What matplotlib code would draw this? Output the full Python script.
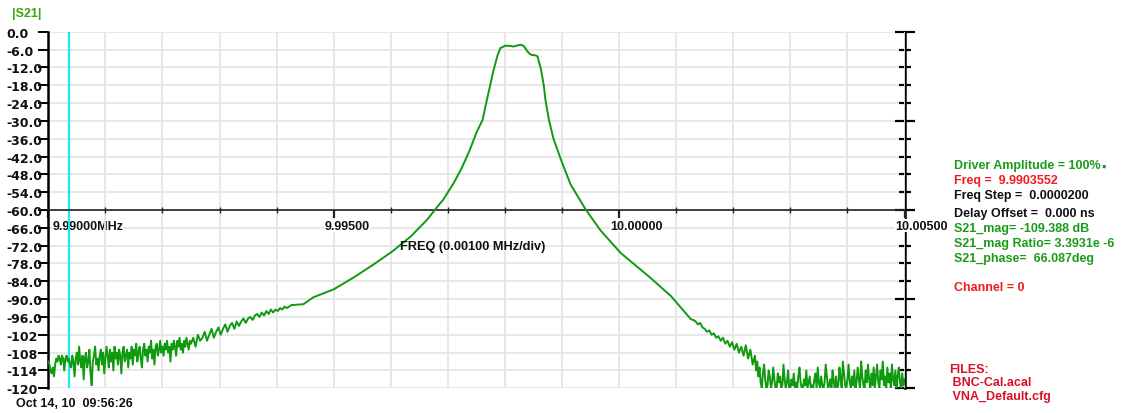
import numpy as np
import matplotlib
matplotlib.use("Agg")
import matplotlib.pyplot as plt
import matplotlib.transforms as mtransforms
from matplotlib.ticker import MultipleLocator

# ---------------- data ----------------
x_min, x_max = 9.990, 10.005          # MHz
y_min, y_max = -120.0, 0.0            # dB
marker_freq = 9.9903552               # MHz (cursor)

# low-frequency noise floor, dense part (sweep step 0.00002 MHz)
left1_start, left1_step = 9.99000, 0.00002
left1_db = [-111, -112, -114, -115, -113, -116, -112, -110, -111, -109,
            -110, -112, -109, -110, -114, -110, -109, -111, -110, -112,
            -113, -109, -111, -116, -110, -108, -112, -106, -111, -113,
            -109, -117, -110, -108, -113, -111, -107, -115, -119, -111,
            -109, -106, -112, -110, -114, -109, -107, -112, -108, -115,
            -110, -106, -109, -113, -107, -111, -108, -114, -106, -110,
            -108, -112, -107, -109, -115, -108, -106, -111, -109, -107,
            -113, -108, -110, -106, -112, -107, -109, -105, -111, -108,
            -106, -110, -113, -107, -105, -109, -107, -111, -106, -108,
            -104, -110, -107, -112, -106, -105, -109, -107, -104, -108,
            -106, -109, -105, -107, -104, -108, -106, -111, -105, -107,
            -104, -106, -109, -104, -106, -103, -107, -105, -108, -104,
            -106, -103, -105, -107, -104]

# low-frequency slope (every second sample)
left2_start, left2_step = 9.99250, 0.00004
left2_db = [-105, -103, -106, -102, -104, -103, -101, -104, -102, -100,
            -103, -101, -99.5, -102, -100, -98.5, -101, -99, -98, -100,
            -97.5, -99, -97.5, -96.5, -98, -96.5, -96, -97, -95.5, -95,
            -96, -94.5, -95.5, -94, -95, -93.5, -94.5, -93.5, -94, -93,
            -93.5, -92.5, -93, -92.5, -92]

# resonance region
peak_freq = [9.99447, 9.99464, 9.99500, 9.99535, 9.99570, 9.99603, 9.99635,
             9.99664, 9.99682, 9.99692, 9.99710, 9.99724, 9.99738, 9.99750,
             9.99761, 9.99766, 9.99773, 9.99780, 9.99787, 9.99792, 9.99801,
             9.99810, 9.99815, 9.99822, 9.99828, 9.99833, 9.99840, 9.99845,
             9.99854, 9.99857, 9.99863, 9.99868, 9.99871, 9.99877, 9.99885,
             9.99898, 9.99915, 9.99942, 9.99968, 10.00003, 10.00056,
             10.00091, 10.00126]
peak_db = [-91.7, -89.4, -86.7, -82.7, -78.3, -73.9, -68.9,
           -63.2, -58.8, -56.5, -51.0, -46.0, -40.0, -34.0,
           -29.6, -25.0, -19.0, -13.0, -8.0, -5.5, -4.7,
           -4.8, -5.0, -4.6, -4.4, -4.8, -6.8, -7.7,
           -8.0, -8.3, -12.5, -18.0, -23.0, -29.6, -36.0,
           -43.0, -51.4, -60.0, -67.0, -74.5, -83.0, -89.0, -96.8]

# high-frequency slope (every second sample)
right1_start, right1_step = 10.00130, 0.00004
right1_db = [-97, -97.5, -98.5, -98, -99.5, -100, -101, -100.5, -102, -101.5,
             -103, -102.5, -104, -103, -105, -104, -106, -104.5, -107, -105,
             -108, -106, -109, -105.5, -110, -107, -112, -109]

# high-frequency noise floor, dense part (sweep step 0.00002 MHz)
right2_start, right2_step = 10.00240, 0.00002
right2_db = [-114, -111, -116, -113, -118, -120, -115, -112, -117, -120,
             -119, -114, -116, -120, -118, -113, -117, -120, -120, -115,
             -118, -116, -120, -119, -112, -117, -120, -118, -114, -120,
             -120, -117, -119, -115, -120, -118, -120, -116, -113, -118,
             -120, -120, -117, -119, -114, -120, -118, -116, -120, -119,
             -120, -117, -115, -120, -113, -118, -120, -116, -119, -120,
             -118, -112, -116, -120, -119, -117, -120, -114, -118, -120,
             -116, -120, -119, -113, -117, -120, -111, -115, -119, -120,
             -117, -112, -118, -120, -116, -119, -114, -120, -118, -113,
             -117, -120, -111, -116, -119, -120, -114, -118, -112, -117,
             -120, -115, -119, -113, -120, -116, -112, -118, -120, -114,
             -117, -111, -119, -116, -120, -113, -118, -115, -120, -112,
             -117, -119, -114, -120, -116, -113, -118, -120, -115, -119,
             -117]

y_ticks = list(range(0, -121, -6))
y_tick_labels = ["%.1f" % v if abs(v) < 100 else "%d" % v for v in y_ticks]
x_major = [9.990, 9.995, 10.000, 10.005]
x_major_labels = ["9.99000MHz", "9.99500", "10.00000", "10.00500"]

info_lines = [
    ("Driver Amplitude = 100%", "green"),
    ("Freq =  9.9903552", "red"),
    ("Freq Step =  0.0000200", "black"),
    ("Delay Offset =  0.000 ns", "black"),
    ("S21_mag= -109.388 dB", "green"),
    ("S21_mag Ratio= 3.3931e -6", "green"),
    ("S21_phase=  66.087deg", "green"),
    ("Channel = 0", "red"),
]
files_lines = ["FILES:", " BNC-Cal.acal", " VNA_Default.cfg"]

# ---------------- assemble trace ----------------
def seg(start, step, vals):
    return start + step * np.arange(len(vals))

freq = np.concatenate([seg(left1_start, left1_step, left1_db),
                       seg(left2_start, left2_step, left2_db),
                       peak_freq,
                       seg(right1_start, right1_step, right1_db),
                       seg(right2_start, right2_step, right2_db)])
db = np.concatenate([left1_db, left2_db, peak_db, right1_db, right2_db])

# ---------------- figure ----------------
W, H = 1123, 414
fig = plt.figure(figsize=(W / 100, H / 100), dpi=100)
fig.patch.set_facecolor("white")
x0, x1, ytop, ybot = 48.3, 904.5, 32.7, 389.3
ax = fig.add_axes([x0 / W, 1 - ybot / H, (x1 - x0) / W, (ybot - ytop) / H])

GREEN_TXT = "#1c9a1c"
RED_TXT = "#ee1b22"
col = {"green": GREEN_TXT, "red": RED_TXT, "black": "#111111"}
FONT = ["Liberation Sans", "DejaVu Sans"]
GRID = "#e6e6e6"

ax.set_xlim(x_min, x_max)
ax.set_ylim(y_min, y_max)

# ticks
ax.xaxis.set_minor_locator(MultipleLocator(0.001))
ax.set_xticks(x_major)
ax.set_xticklabels(x_major_labels)
ax.set_yticks(y_ticks)
ax.set_yticklabels(y_tick_labels)
ax.grid(axis="x", which="both", color=GRID, lw=1.3)

for s in ("top", "right"):
    ax.spines[s].set_visible(False)
ax.spines["left"].set_linewidth(1.8)
ax.spines["left"].set_color("black")
ax.spines["bottom"].set_position(("data", -60))
ax.spines["bottom"].set_linewidth(1.2)
ax.spines["bottom"].set_color("#222222")

ax.tick_params(axis="y", which="major", direction="out", length=7, width=1.4,
               pad=23.5, colors="black")
ax.tick_params(axis="x", which="major", direction="out", length=6, width=1.6,
               pad=1, colors="#222222")
ax.tick_params(axis="x", which="minor", direction="inout", length=4, width=1.0,
               colors="#222222")

x_label_shift_px = [4, -9, -9, -9]
for lab, dx in zip(ax.get_xticklabels(), x_label_shift_px):
    lab.set_fontfamily(FONT)
    lab.set_fontweight("bold")
    lab.set_fontsize(9)
    lab.set_color("#111111")
    lab.set_horizontalalignment("left")
    lab.set_bbox(dict(facecolor="white", edgecolor="none", pad=0.3))
    lab.set_transform(lab.get_transform() +
                      mtransforms.ScaledTranslation(dx / 100, 0,
                                                    fig.dpi_scale_trans))
for lab in ax.get_yticklabels():
    lab.set_fontfamily("DejaVu Sans")
    lab.set_fontweight("bold")
    lab.set_fontsize(9)
    lab.set_color("#111111")
    lab.set_horizontalalignment("left")

# right axis with crossing ticks; it also carries the horizontal grid
ax2 = ax.twinx()
ax2.set_ylim(y_min, y_max)
for s in ("top", "left", "bottom"):
    ax2.spines[s].set_visible(False)
ax2.spines["right"].set_linewidth(1.8)
ax2.set_yticks(range(-120, 1, 30))
ax2.yaxis.set_minor_locator(MultipleLocator(6))
ax2.tick_params(axis="y", which="major", direction="inout", length=14.5,
                width=1.6, labelright=False)
ax2.tick_params(axis="y", which="minor", direction="inout", length=8.5,
                width=1.6)
ax2.grid(axis="y", which="both", color=GRID, lw=1.3)
ax2.set_zorder(0)
ax.set_zorder(1)
ax.patch.set_visible(False)

# cursor and trace
ax.axvline(marker_freq, color="#22e8f0", lw=1.6, zorder=2)
ax.plot(freq, db, color="#109a10", lw=1.4, zorder=3, solid_joinstyle="round")

# axis caption
ax.text(0.496, -60, "FREQ (0.00100 MHz/div)",
        transform=ax.get_yaxis_transform() +
        mtransforms.ScaledTranslation(0, -30 / 100, fig.dpi_scale_trans),
        ha="center", va="top", fontfamily=FONT, fontweight="bold", fontsize=9.2,
        color="#111111", zorder=4)


def ftext(x, y, s, color, **kw):
    fig.text(x / W, 1 - y / H, s, color=color, ha="left", va="center",
             fontfamily=FONT, fontweight="bold", fontsize=9, **kw)


ftext(12, 14, "|S21|", "#3aa50c")
ftext(16, 404, "Oct 14, 10  09:56:26", "#111111")

info_y = [166, 181, 196, 214, 229, 244, 259, 288]
for (s, c), yy in zip(info_lines, info_y):
    ftext(954, yy, s, col[c])
ftext(1101, 168, "\u25aa", GREEN_TXT)

files_y = [370, 383, 397]
for s, yy in zip(files_lines, files_y):
    ftext(949, yy, s, "#d8102a")

fig.savefig("out.png", dpi=100, facecolor="white")
